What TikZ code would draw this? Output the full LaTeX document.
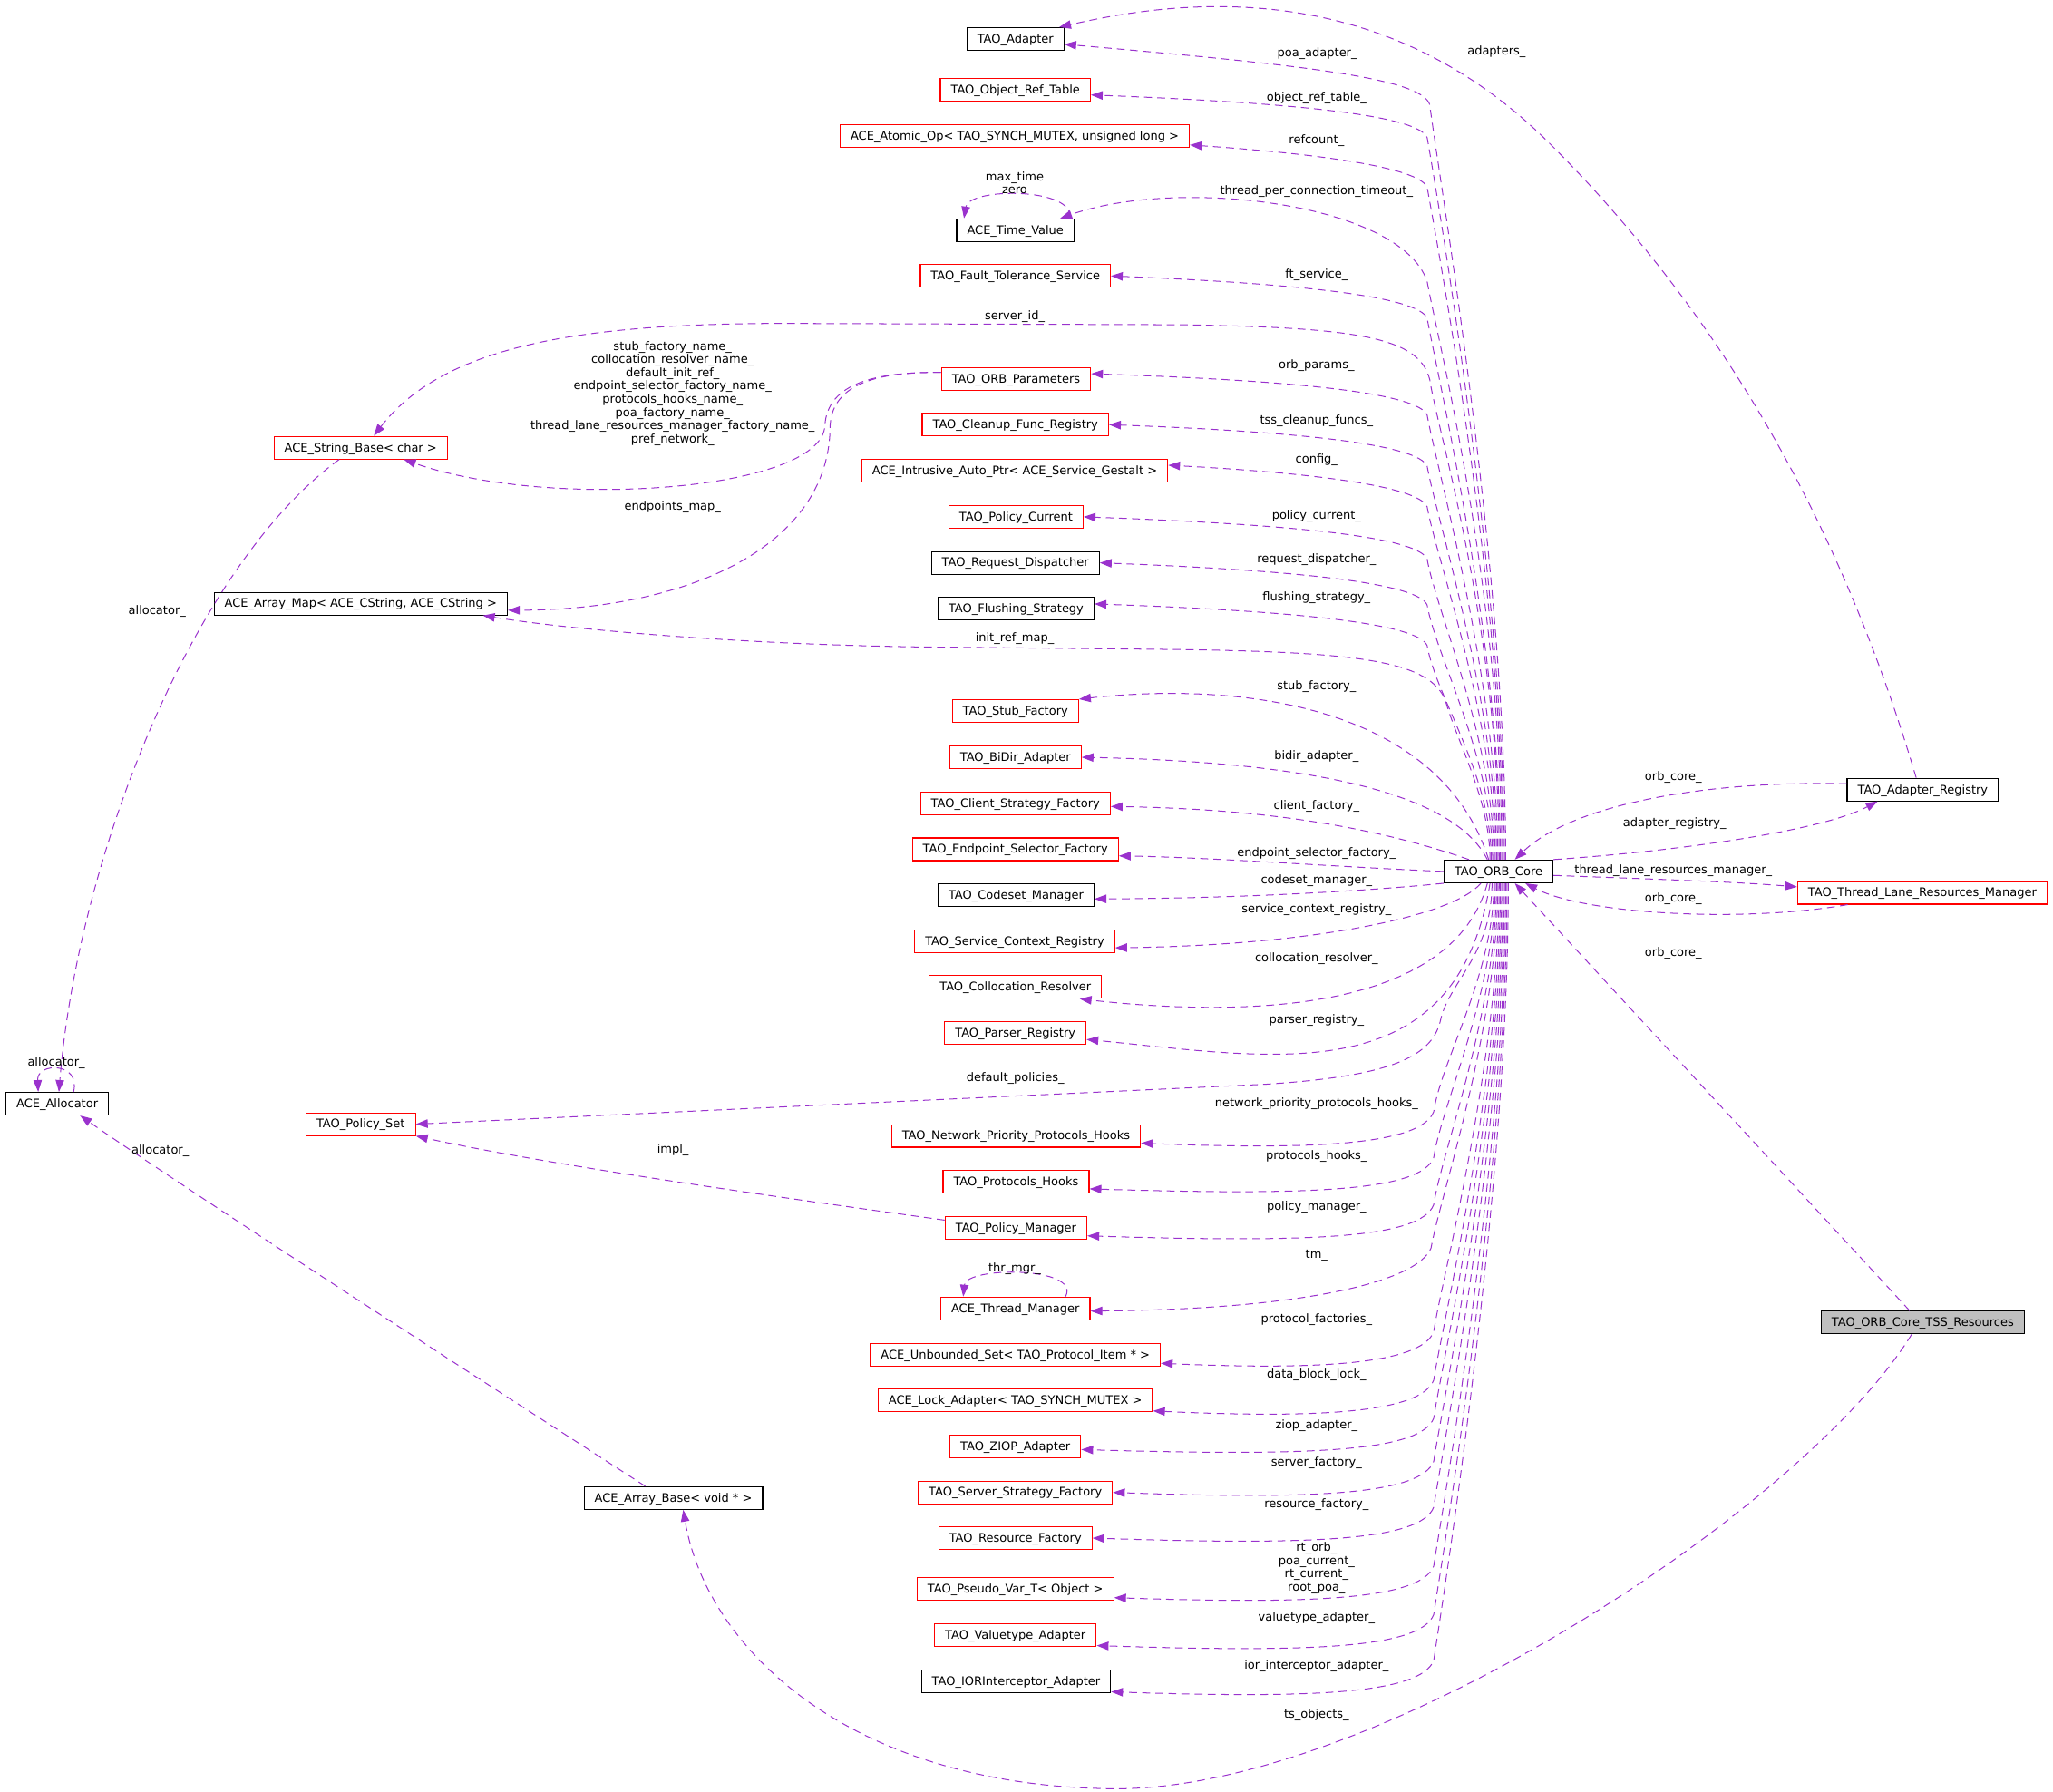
\documentclass[tikz,border=0pt]{standalone}
\usepackage{fontspec}
\newfontfamily\dotfont{DejaVu Sans}
\usetikzlibrary{arrows.meta}
\definecolor{usagepurple}{HTML}{9A32CD}
\definecolor{rootfill}{HTML}{BFBFBF}
\tikzset{
        classnode/.style={draw=black, line width=0.8pt, fill=white, inner xsep=8pt, inner ysep=0pt,
          minimum height=17.3pt, text height=7.5pt, text depth=1.5pt, font=\dotfont\fontsize{9}{10.15}\selectfont},
        % Documented classes
        node_black/.style={classnode},
        % Classes with incomplete documentation
        node_red/.style={classnode, draw=red},
        % The class the graph is drawn for
        node_root/.style={classnode, fill=rootfill},
        % Usage relations
        edge_usage/.style={draw=usagepurple, line width=0.7pt, dash pattern=on 6pt off 4pt,
          -{Triangle[length=9pt,width=6.5pt]}},
        % Member names
        edge_label/.style={inner sep=0pt, text height=7pt, text depth=2pt, font=\dotfont\fontsize{9}{10.15}\selectfont},
        edge_label_multi/.style={inner sep=0pt, align=center, font=\dotfont\fontsize{9}{10.15}\selectfont}
}
\begin{document}
\begin{tikzpicture}[x=1pt, y=-1pt]
    \useasboundingbox (0,0) rectangle (1568,1368);
    % middle column
    \node[node_black] (adapter) at (775.5,29.8) {TAO\_Adapter};
    \node[node_red] (objreftable) at (775.5,68.5) {TAO\_Object\_Ref\_Table};
    \node[node_red] (atomicop) at (775,103.7) {ACE\_Atomic\_Op< TAO\_SYNCH\_MUTEX, unsigned long >};
    \node[node_black] (timevalue) at (775.5,175.8) {ACE\_Time\_Value};
    \node[node_red] (ftservice) at (775.5,210.7) {TAO\_Fault\_Tolerance\_Service};
    \node[node_red] (orbparams) at (776,289.4) {TAO\_ORB\_Parameters};
    \node[node_red] (cleanup) at (775.5,324.3) {TAO\_Cleanup\_Func\_Registry};
    \node[node_red] (autoptr) at (775,359.3) {ACE\_Intrusive\_Auto\_Ptr< ACE\_Service\_Gestalt >};
    \node[node_red] (policycurrent) at (776,394.7) {TAO\_Policy\_Current};
    \node[node_black] (requestdisp) at (775.5,429.8) {TAO\_Request\_Dispatcher};
    \node[node_black] (flushing) at (776,464.7) {TAO\_Flushing\_Strategy};
    \node[node_red] (stubfactory) at (775.5,543) {TAO\_Stub\_Factory};
    \node[node_red] (bidir) at (775.5,578.3) {TAO\_BiDir\_Adapter};
    \node[node_red] (clientfactory) at (775.5,613.4) {TAO\_Client\_Strategy\_Factory};
    \node[node_red] (endpointsel) at (775.5,648.6) {TAO\_Endpoint\_Selector\_Factory};
    \node[node_black] (codeset) at (776,683.5) {TAO\_Codeset\_Manager};
    \node[node_red] (servicectx) at (775,718.8) {TAO\_Service\_Context\_Registry};
    \node[node_red] (colloc) at (775.5,753.8) {TAO\_Collocation\_Resolver};
    \node[node_red] (parser) at (775.5,788.8) {TAO\_Parser\_Registry};
    \node[node_red] (netprio) at (776,867.5) {TAO\_Network\_Priority\_Protocols\_Hooks};
    \node[node_red] (protohooks) at (776,902.4) {TAO\_Protocols\_Hooks};
    \node[node_red] (policymgr) at (776,937.8) {TAO\_Policy\_Manager};
    \node[node_red] (threadmgr) at (775.5,999.2) {ACE\_Thread\_Manager};
    \node[node_red] (unboundedset) at (775.5,1034.6) {ACE\_Unbounded\_Set< TAO\_Protocol\_Item * >};
    \node[node_red] (lockadapter) at (775.5,1069.5) {ACE\_Lock\_Adapter< TAO\_SYNCH\_MUTEX >};
    \node[node_red] (ziop) at (775.5,1104.5) {TAO\_ZIOP\_Adapter};
    \node[node_red] (serverfactory) at (775.5,1139.7) {TAO\_Server\_Strategy\_Factory};
    \node[node_red] (resourcefactory) at (775.5,1174.6) {TAO\_Resource\_Factory};
    \node[node_red] (pseudovar) at (775.5,1213.6) {TAO\_Pseudo\_Var\_T< Object >};
    \node[node_red] (valuetype) at (775.5,1248.7) {TAO\_Valuetype\_Adapter};
    \node[node_black] (iorinterceptor) at (776,1284) {TAO\_IORInterceptor\_Adapter};
    % left column
    \node[node_red] (stringbase) at (275.5,341.9) {ACE\_String\_Base< char >};
    \node[node_black] (arraymap) at (275.5,461) {ACE\_Array\_Map< ACE\_CString, ACE\_CString >};
    \node[node_black] (allocator) at (43.7,842.9) {ACE\_Allocator};
    \node[node_red] (policyset) at (275.5,858.5) {TAO\_Policy\_Set};
    \node[node_black] (arraybase) at (514.3,1144) {ACE\_Array\_Base< void * >};
    % right column
    \node[node_black] (orbcore) at (1144.5,665.5) {TAO\_ORB\_Core};
    \node[node_black] (adapterreg) at (1468.5,603) {TAO\_Adapter\_Registry};
    \node[node_red] (threadlane) at (1468.2,681.8) {TAO\_Thread\_Lane\_Resources\_Manager};
    \node[node_root] (tss) at (1468.5,1010) {TAO\_ORB\_Core\_TSS\_Resources};

    % members of TAO_ORB_Core above it
    \draw[edge_usage] ([xshift=5.5pt]orbcore.north) .. controls (1150,430) and (1098,130) .. (1092,80) .. controls (1086,60) and (1000,50) .. ([yshift=-4pt]adapter.east);
    \draw[edge_usage] ([xshift=4.5pt]orbcore.north) .. controls (1149,449) and (1097,145) .. (1090,105) .. controls (1083,89) and (1000,79) .. ([yshift=-4pt]objreftable.east);
    \draw[edge_usage] ([xshift=3.5pt]orbcore.north) .. controls (1148,451) and (1097,183) .. (1090,143) .. controls (1083,127) and (1000,117) .. ([yshift=-7pt]atomicop.east);
    \draw[edge_usage] ([xshift=2.5pt]orbcore.north) .. controls (1147,450) and (1098,260) .. (1090,215) .. controls (1070,155) and (900,135) .. ([xshift=-11pt]timevalue.north east);
    \draw[edge_usage] ([xshift=1.5pt]orbcore.north) .. controls (1146,491) and (1097,283) .. (1090,243) .. controls (1083,227) and (1000,217) .. (ftservice.east);
    \draw[edge_usage] ([xshift=0.5pt]orbcore.north) .. controls (1145,480) and (1098,330) .. (1092,290) .. controls (1084,258) and (1040,250) .. (900,248) -- (600,247) .. controls (450,247) and (340,262) .. ([xshift=10pt]stringbase.north);
    \draw[edge_usage] ([xshift=-0.5pt]orbcore.north) .. controls (1144,521) and (1097,357) .. (1090,317) .. controls (1083,301) and (1000,291) .. ([yshift=4pt]orbparams.east);
    \draw[edge_usage] ([xshift=-1.5pt]orbcore.north) .. controls (1143,537) and (1097,396) .. (1090,356) .. controls (1083,340) and (1000,330) .. (cleanup.east);
    \draw[edge_usage] ([xshift=-2.5pt]orbcore.north) .. controls (1142,549) and (1097,427) .. (1090,387) .. controls (1083,371) and (1000,361) .. ([yshift=4pt]autoptr.east);
    \draw[edge_usage] ([xshift=-3.5pt]orbcore.north) .. controls (1141,565) and (1097,467) .. (1090,427) .. controls (1083,411) and (1000,401) .. (policycurrent.east);
    \draw[edge_usage] ([xshift=-4.5pt]orbcore.north) .. controls (1140,579) and (1097,502) .. (1090,462) .. controls (1083,446) and (1000,436) .. (requestdisp.east);
    \draw[edge_usage] ([xshift=-5.5pt]orbcore.north) .. controls (1139,591) and (1097,533) .. (1090,493) .. controls (1083,477) and (1000,467) .. ([yshift=3.5pt]flushing.east);
    \draw[edge_usage] ([xshift=-6.5pt]orbcore.north) .. controls (1138,610) and (1112,565) .. (1104,535) .. controls (1092,505) and (1040,498) .. (900,496) -- (700,494) .. controls (560,492) and (430,480) .. ([xshift=-19pt]arraymap.south east);
    \draw[edge_usage] ([xshift=-7.5pt]orbcore.north) .. controls (1100,540) and (950,520) .. (stubfactory.north east);
    \draw[edge_usage] ([xshift=-8.5pt]orbcore.north) .. controls (1110,605) and (1000,582) .. (bidir.east);
    \draw[edge_usage] ([xshift=-22.5pt]orbcore.north) .. controls (1060,635) and (980,618) .. ([yshift=-2.5pt]clientfactory.east);
    \draw[edge_usage] (orbcore.west) .. controls (1020,662) and (930,655) .. ([yshift=-5pt]endpointsel.east);
    \draw[edge_usage] (orbcore.south west) .. controls (1060,679) and (960,686) .. ([yshift=-3pt]codeset.east);
    % members of TAO_ORB_Core below it
    \draw[edge_usage] ([xshift=-13.5pt]orbcore.south) .. controls (1110,700) and (1000,722) .. ([yshift=-5pt]servicectx.east);
    \draw[edge_usage] ([xshift=-8.5pt]orbcore.south) .. controls (1110,770) and (960,778) .. ([xshift=-17pt]colloc.south east);
    \draw[edge_usage] ([xshift=-6.5pt]orbcore.south) .. controls (1112,835) and (975,808) .. ([yshift=-5pt]parser.east);
    \draw[edge_usage] ([xshift=-5pt]orbcore.south) .. controls (1139.5,730) and (1106,750) .. (1100,780) .. controls (1093,808) and (1060,822) .. (967,828) -- (policyset.east);
    \draw[edge_usage] ([xshift=-3.5pt]orbcore.south) .. controls (1141,744) and (1101,809) .. (1095,849) .. controls (1085,875) and (1000,878) .. ([yshift=-5.5pt]netprio.east);
    \draw[edge_usage] ([xshift=-2.5pt]orbcore.south) .. controls (1142,758) and (1101,844) .. (1095,884) .. controls (1085,910) and (1000,913) .. ([yshift=-5.5pt]protohooks.east);
    \draw[edge_usage] ([xshift=-1.5pt]orbcore.south) .. controls (1143,772) and (1101,880) .. (1095,920) .. controls (1085,946) and (1000,949) .. ([yshift=-6pt]policymgr.east);
    \draw[edge_usage] ([xshift=-0.5pt]orbcore.south) .. controls (1144,786) and (1100,913) .. (1093,953) .. controls (1082,980) and (990,1000) .. ([yshift=-2pt]threadmgr.east);
    \draw[edge_usage] ([xshift=0.5pt]orbcore.south) .. controls (1145,811) and (1101,977) .. (1095,1017) .. controls (1085,1043) and (1000,1046) .. ([yshift=-6.5pt]unboundedset.east);
    \draw[edge_usage] ([xshift=1.5pt]orbcore.south) .. controls (1146,826) and (1101,1014) .. (1095,1054) .. controls (1085,1080) and (1000,1083) .. ([yshift=-8pt]lockadapter.east);
    \draw[edge_usage] ([xshift=2.5pt]orbcore.south) .. controls (1147,838) and (1101,1043) .. (1095,1083) .. controls (1085,1109) and (1000,1112) .. ([yshift=-2.5pt]ziop.east);
    \draw[edge_usage] ([xshift=3.5pt]orbcore.south) .. controls (1148,851) and (1101,1076) .. (1095,1116) .. controls (1085,1142) and (1000,1145) .. (serverfactory.east);
    \draw[edge_usage] ([xshift=4.5pt]orbcore.south) .. controls (1149,865) and (1101,1111) .. (1095,1151) .. controls (1085,1177) and (1000,1180) .. (resourcefactory.east);
    \draw[edge_usage] ([xshift=5.5pt]orbcore.south) .. controls (1150,883) and (1101,1156) .. (1095,1196) .. controls (1085,1222) and (1000,1225) .. ([yshift=-6.5pt]pseudovar.east);
    \draw[edge_usage] ([xshift=6.5pt]orbcore.south) .. controls (1151,898) and (1101,1193) .. (1095,1233) .. controls (1085,1259) and (1000,1262) .. ([yshift=-8pt]valuetype.east);
    \draw[edge_usage] ([xshift=7.5pt]orbcore.south) .. controls (1152,912) and (1101,1228) .. (1095,1268) .. controls (1085,1294) and (1000,1297) .. ([yshift=-8pt]iorinterceptor.east);
    % self references
    \draw[edge_usage] ([xshift=-4pt]timevalue.north east) .. controls (822,143) and (740,143) .. ([xshift=6pt]timevalue.north west);
    \draw[edge_usage] ([xshift=-19pt]threadmgr.north east) .. controls (826,967) and (738,967) .. ([xshift=17.5pt]threadmgr.north west);
    \draw[edge_usage] ([xshift=12.5pt]allocator.north) .. controls (62,811) and (28,811) .. ([xshift=-14.5pt]allocator.north);
    % left part
    \draw[edge_usage] ([yshift=5pt]orbparams.west) .. controls (670,284) and (632,292) .. (630,325) .. controls (628,375) and (420,390) .. ([xshift=33pt]stringbase.south);
    \draw[edge_usage] ([yshift=5pt]orbparams.west) .. controls (672,284) and (636,292) .. (634,325) .. controls (634,420) and (520,466) .. ([yshift=-5pt]arraymap.east);
    \draw[edge_usage] ([xshift=-16.5pt]stringbase.south) .. controls (150,430) and (60,650) .. ([xshift=1.3pt]allocator.north);
    \draw[edge_usage] ([xshift=-21.5pt]arraybase.north) .. controls (330,1030) and (130,900) .. ([xshift=17.5pt]allocator.south);
    \draw[edge_usage] ([yshift=6pt]policymgr.west) .. controls (600,915) and (420,890) .. (policyset.south east);
    % right part
    \draw[edge_usage] ([xshift=-5pt]adapterreg.north) .. controls (1401,383) and (1304,230) .. (1184,110) .. controls (1054,-20) and (900,0) .. ([xshift=-4pt]adapter.north east);
    \draw[edge_usage] ([yshift=4.5pt]adapterreg.west) .. controls (1300,596) and (1200,615) .. ([xshift=12.5pt]orbcore.north);
    \draw[edge_usage] (orbcore.north east) .. controls (1280,650) and (1390,635) .. ([xshift=-34.5pt]adapterreg.south);
    \draw[edge_usage] ([yshift=-3pt]orbcore.east) .. controls (1250,671) and (1320,673) .. ([yshift=4.5pt]threadlane.west);
    \draw[edge_usage] ([xshift=-57pt]threadlane.south) .. controls (1330,705) and (1210,698) .. ([xshift=20.5pt]orbcore.south);
    \draw[edge_usage] ([xshift=-10pt]tss.north) -- ([xshift=12.5pt]orbcore.south);
    \draw[edge_usage] ([xshift=-8.5pt]tss.south) .. controls (1380,1150) and (1050,1368) .. (850,1366) .. controls (650,1364) and (540,1260) .. ([xshift=7.5pt]arraybase.south);

    % member names
    \node[edge_label] (l_poa) at (1006,41) {poa\_adapter\_};
    \node[edge_label] (l_objref) at (1005.5,74.6) {object\_ref\_table\_};
    \node[edge_label] (l_refcount) at (1005.5,107.3) {refcount\_};
    \node[edge_label] (l_tpct) at (1005.5,145.9) {thread\_per\_connection\_timeout\_};
    \node[edge_label] (l_ft) at (1005.5,209.6) {ft\_service\_};
    \node[edge_label] (l_serverid) at (775,241.7) {server\_id\_};
    \node[edge_label] (l_params) at (1005.5,279.3) {orb\_params\_};
    \node[edge_label] (l_cleanup) at (1005.5,321.3) {tss\_cleanup\_funcs\_};
    \node[edge_label] (l_config) at (1005.5,350.9) {config\_};
    \node[edge_label] (l_polcurrent) at (1005.5,393.8) {policy\_current\_};
    \node[edge_label] (l_reqdisp) at (1005.5,427) {request\_dispatcher\_};
    \node[edge_label] (l_flushing) at (1005.5,456.3) {flushing\_strategy\_};
    \node[edge_label] (l_initref) at (775,487.2) {init\_ref\_map\_};
    \node[edge_label] (l_stub) at (1005.5,524) {stub\_factory\_};
    \node[edge_label] (l_bidir) at (1005.5,577.8) {bidir\_adapter\_};
    \node[edge_label] (l_client) at (1005.5,615.4) {client\_factory\_};
    \node[edge_label] (l_endpoint) at (1005.5,651.3) {endpoint\_selector\_factory\_};
    \node[edge_label] (l_codeset) at (1005.5,672.1) {codeset\_manager\_};
    \node[edge_label] (l_servctx) at (1005.5,694.3) {service\_context\_registry\_};
    \node[edge_label] (l_colloc) at (1005.5,731.9) {collocation\_resolver\_};
    \node[edge_label] (l_parser) at (1005.5,778.9) {parser\_registry\_};
    \node[edge_label] (l_defpol) at (775.5,823.2) {default\_policies\_};
    \node[edge_label] (l_netprio) at (1005.5,842.7) {network\_priority\_protocols\_hooks\_};
    \node[edge_label] (l_protohooks) at (1005.5,883) {protocols\_hooks\_};
    \node[edge_label] (l_polmgr) at (1005.5,921.6) {policy\_manager\_};
    \node[edge_label] (l_tm) at (1005.5,958.1) {tm\_};
    \node[edge_label] (l_protofac) at (1005.5,1007.6) {protocol\_factories\_};
    \node[edge_label] (l_datablock) at (1005.5,1049.9) {data\_block\_lock\_};
    \node[edge_label] (l_ziop) at (1005.5,1088.6) {ziop\_adapter\_};
    \node[edge_label] (l_serverfac) at (1005.5,1117) {server\_factory\_};
    \node[edge_label] (l_resource) at (1005.5,1148.8) {resource\_factory\_};
    \node[edge_label_multi] (l_pseudo) at (1005.5,1197.5) {rt\_orb\_\\poa\_current\_\\rt\_current\_\\root\_poa\_};
    \node[edge_label] (l_valuetype) at (1005.5,1235.4) {valuetype\_adapter\_};
    \node[edge_label] (l_ior) at (1005.5,1271.9) {ior\_interceptor\_adapter\_};
    \node[edge_label] (l_tsobjects) at (1005.5,1309.5) {ts\_objects\_};
    \node[edge_label_multi] (l_timeself) at (775,139.7) {max\_time\\zero};
    \node[edge_label] (l_thrmgr) at (775,968.6) {thr\_mgr\_};
    \node[edge_label_multi] (l_paramnames) at (513.7,300.5) {stub\_factory\_name\_\\collocation\_resolver\_name\_\\default\_init\_ref\_\\endpoint\_selector\_factory\_name\_\\protocols\_hooks\_name\_\\poa\_factory\_name\_\\thread\_lane\_resources\_manager\_factory\_name\_\\pref\_network\_};
    \node[edge_label] (l_endpoints) at (513.7,387) {endpoints\_map\_};
    \node[edge_label] (l_stralloc) at (120,467) {allocator\_};
    \node[edge_label] (l_allocself) at (43,811.6) {allocator\_};
    \node[edge_label] (l_arralloc) at (122.4,878.5) {allocator\_};
    \node[edge_label] (l_impl) at (514,878) {impl\_};
    \node[edge_label] (l_adapters) at (1143,39.5) {adapters\_};
    \node[edge_label] (l_regorb) at (1278,593.3) {orb\_core\_};
    \node[edge_label] (l_adapterreg) at (1279,628.6) {adapter\_registry\_};
    \node[edge_label] (l_threadlane) at (1278,664.8) {thread\_lane\_resources\_manager\_};
    \node[edge_label] (l_laneorb) at (1278,686.3) {orb\_core\_};
    \node[edge_label] (l_tssorb) at (1278,727.9) {orb\_core\_};
\end{tikzpicture}
\end{document}
